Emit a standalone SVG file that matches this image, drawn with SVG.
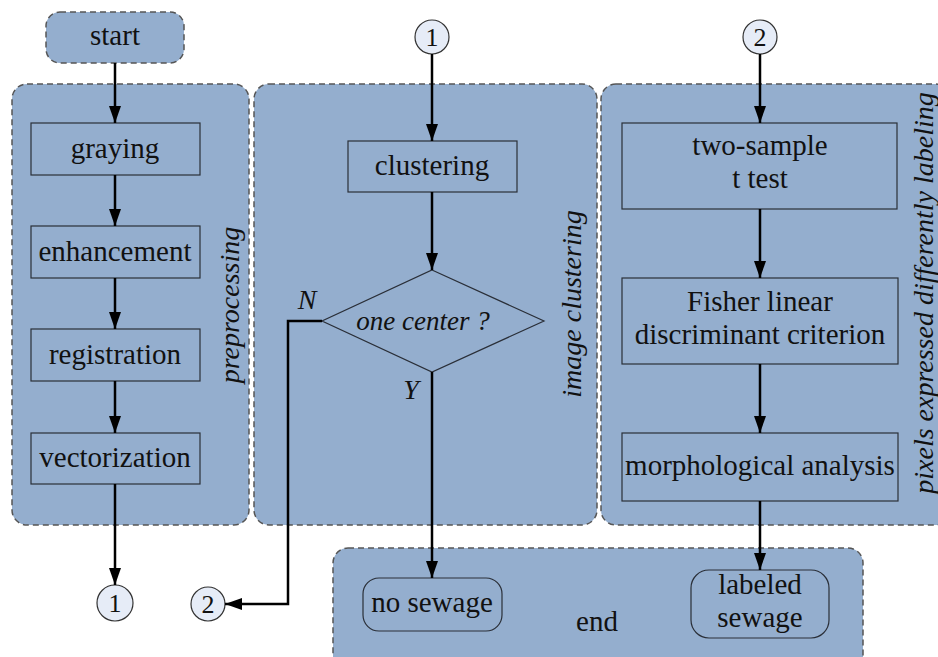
<svg xmlns="http://www.w3.org/2000/svg" width="938" height="657" viewBox="0 0 938 657">
<defs>
<marker id="ah" markerUnits="userSpaceOnUse" markerWidth="18" markerHeight="14" refX="17" refY="7" orient="auto">
<path d="M0,1 L17,7 L0,13 Z" fill="#000"/>
</marker>
</defs>
<style>
.panel{fill:#94aece;stroke:#555;stroke-width:1.5;stroke-dasharray:6 4}
.box{fill:#94aece;stroke:#2a2f38;stroke-width:1.2}
.circ{fill:#e6ecf7;stroke:#333;stroke-width:1.2}
.t{font-family:'Liberation Serif','DejaVu Serif',serif;font-size:29px;fill:#111;text-anchor:middle}
.ti{font-family:'Liberation Serif','DejaVu Serif',serif;font-size:28px;font-style:italic;fill:#111;text-anchor:middle}
.tc{font-family:'Liberation Serif','DejaVu Serif',serif;font-size:26px;fill:#111;text-anchor:middle}
.arr{fill:none;stroke:#000;stroke-width:2.5;marker-end:url(#ah)}
</style>
<rect width="938" height="657" fill="#fff"/>

<g id="panel-preprocessing">
<rect class="panel" x="12" y="84" width="237" height="441" rx="15"/>
<text class="ti" transform="translate(239,305) rotate(-90)">preprocessing</text>
</g>
<g id="panel-clustering">
<rect class="panel" x="254" y="84" width="343" height="441" rx="15"/>
<text class="ti" transform="translate(581,304) rotate(-90)">image clustering</text>
</g>
<g id="panel-labeling">
<rect class="panel" x="601" y="84" width="350" height="441" rx="15"/>
<text class="ti" transform="translate(933,293) rotate(-90)">pixels expressed differently labeling</text>
</g>
<g id="panel-end">
<rect class="panel" x="333" y="548" width="530" height="130" rx="15"/>
<text class="t" x="597" y="631">end</text>
</g>

<g id="start">
<rect class="panel" x="46" y="12" width="138" height="51" rx="14"/>
<text class="t" x="115" y="45">start</text>
</g>
<g id="graying">
<rect class="box" x="31" y="123" width="169" height="52"/>
<text class="t" x="115" y="158">graying</text>
</g>
<g id="enhancement">
<rect class="box" x="31" y="226" width="169" height="52"/>
<text class="t" x="115" y="261">enhancement</text>
</g>
<g id="registration">
<rect class="box" x="31" y="329" width="169" height="52"/>
<text class="t" x="115" y="364">registration</text>
</g>
<g id="vectorization">
<rect class="box" x="31" y="433" width="169" height="51"/>
<text class="t" x="115" y="467">vectorization</text>
</g>
<g id="conn1-bottom">
<circle class="circ" cx="115" cy="603" r="18"/>
<text class="tc" x="115" y="612">1</text>
</g>
<g id="conn1-top">
<circle class="circ" cx="432" cy="37" r="17"/>
<text class="tc" x="432" y="46">1</text>
</g>
<g id="clustering">
<rect class="box" x="348" y="141" width="169" height="51"/>
<text class="t" x="432" y="175">clustering</text>
</g>
<g id="one-center">
<polygon class="box" points="432,270 544,321 432,372 322,321"/>
<text class="ti" x="423" y="330" style="font-size:27px">one center ?</text>
<text class="ti" x="307" y="309">N</text>
<text class="ti" x="411" y="399">Y</text>
</g>
<g id="conn2-bottom">
<circle class="circ" cx="208" cy="604" r="17"/>
<text class="tc" x="208" y="613">2</text>
</g>
<g id="no-sewage">
<rect class="box" x="363" y="578" width="139" height="53" rx="16"/>
<text class="t" x="432" y="612">no sewage</text>
</g>
<g id="conn2-top">
<circle class="circ" cx="760" cy="37" r="17"/>
<text class="tc" x="760" y="46">2</text>
</g>
<g id="two-sample">
<rect class="box" x="622" y="123" width="275" height="86"/>
<text class="t"><tspan x="760" y="155">two-sample</tspan><tspan x="760" y="188">t test</tspan></text>
</g>
<g id="fisher">
<rect class="box" x="622" y="278" width="276" height="86"/>
<text class="t"><tspan x="760" y="311">Fisher linear</tspan><tspan x="760" y="344">discriminant criterion</tspan></text>
</g>
<g id="morphological">
<rect class="box" x="622" y="433" width="276" height="68"/>
<text class="t" x="760" y="475">morphological analysis</text>
</g>
<g id="labeled-sewage">
<rect class="box" x="691" y="570" width="138" height="68" rx="18"/>
<text class="t"><tspan x="760" y="594">labeled</tspan><tspan x="760" y="627">sewage</tspan></text>
</g>

<g id="connectors">
<path class="arr" d="M115,63 V123"/>
<path class="arr" d="M115,175 V226"/>
<path class="arr" d="M115,278 V329"/>
<path class="arr" d="M115,381 V433"/>
<path class="arr" d="M115,484 V585"/>
<path class="arr" d="M432,54 V141"/>
<path class="arr" d="M432,192 V270"/>
<path class="arr" d="M432,372 V578"/>
<path class="arr" d="M322,321 H288 V604 H225"/>
<path class="arr" d="M760,54 V123"/>
<path class="arr" d="M760,209 V278"/>
<path class="arr" d="M760,364 V433"/>
<path class="arr" d="M760,501 V570"/>
</g>
</svg>
